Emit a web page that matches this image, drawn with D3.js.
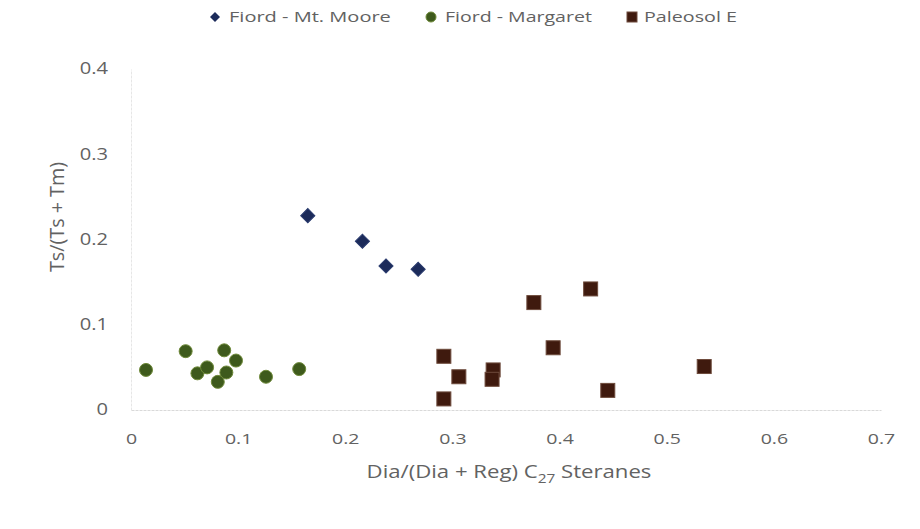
<!DOCTYPE html>
<html>
<head>
<meta charset="utf-8">
<script src="https://cdn.jsdelivr.net/npm/d3@7"></script>
<style>
  body { margin: 0; background: #fff; }
  text { font-family: "Open Sans", Lato, sans-serif; fill: #626262; }
</style>
</head>
<body>
<div id="chart"></div>
<script>
// values
const mooreX = [0.165, 0.216, 0.238, 0.268];
const mooreY = [0.228, 0.198, 0.169, 0.165];

const margaretX = [0.014, 0.051, 0.062, 0.071, 0.087, 0.098, 0.089, 0.081, 0.126, 0.157];
const margaretY = [0.047, 0.069, 0.043, 0.050, 0.070, 0.058, 0.044, 0.033, 0.039, 0.048];

const paleoX = [0.292, 0.306, 0.292, 0.376, 0.429, 0.394, 0.338, 0.337, 0.445, 0.535];
const paleoY = [0.063, 0.039, 0.013, 0.126, 0.142, 0.073, 0.047, 0.036, 0.023, 0.051];

const xTicks = [0, 0.1, 0.2, 0.3, 0.4, 0.5, 0.6, 0.7];
const yTicks = [0, 0.1, 0.2, 0.3, 0.4];

const seriesNames = ["Fiord - Mt. Moore", "Fiord - Margaret", "Paleosol E"];

// the picture is a bit wider than tall, so text is stretched sideways
const stretchX = 1.3;

// Setting up margin, width and height
const margin = {top: 69, right: 39, bottom: 119, left: 131};
const width = 920 - margin.left - margin.right;
const height = 529 - margin.top - margin.bottom;

const svg = d3.select("#chart")
  .append("svg")
  .attr("width", 920)
  .attr("height", 529);

const g = svg.append("g")
  .attr("transform", `translate(${margin.left},${margin.top})`);

const x = d3.scaleLinear().domain([0, 0.7]).range([0, width]);
const y = d3.scaleLinear().domain([0, 0.4]).range([height, 0]);

const fmt = d => d === 0 ? "0" : d3.format(".1f")(d);

// squeeze or widen a text so it takes the given width
function fitWidth(sel, target) {
  const w = sel.node().getBBox().width;
  sel.attr("transform", `scale(${target / w},1)`);
}

// x axis
const xAxis = g.append("g")
  .attr("transform", `translate(0,${height})`)
  .call(d3.axisBottom(x).tickValues(xTicks).tickFormat(fmt).tickSize(0).tickPadding(23));
xAxis.select(".domain").attr("stroke", "#d9d9d9").attr("stroke-dasharray", "3,1");
xAxis.selectAll("text")
  .style("font-size", "15px")
  .attr("fill", "#626262")
  .attr("transform", `scale(${stretchX},1)`);

// y axis
const yAxis = g.append("g")
  .call(d3.axisLeft(y).tickValues(yTicks).tickFormat(fmt).tickSize(0).tickPadding(23));
yAxis.select(".domain").attr("stroke", "#e6e6e6").attr("stroke-dasharray", "3,1");
yAxis.selectAll("text")
  .style("font-size", "15.5px")
  .attr("fill", "#626262")
  .attr("x", 0)
  .attr("transform", `translate(-23,0) scale(${stretchX},1)`);

// axis titles
const xTitle = svg.append("g")
  .attr("transform", "translate(509,478)")
  .append("text")
  .attr("text-anchor", "middle")
  .style("font-size", "18px");
xTitle.append("tspan").text("Dia/(Dia + Reg) C");
xTitle.append("tspan").attr("dy", 5).style("font-size", "12.5px").text("27");
xTitle.append("tspan").attr("dy", -5).text(" Steranes");
fitWidth(xTitle, 285);

const yTitle = svg.append("g")
  .attr("transform", `translate(57,217) scale(${stretchX},1) rotate(-90)`)
  .append("text")
  .attr("text-anchor", "middle")
  .attr("dy", "0.35em")
  .style("font-size", "15.5px")
  .text("Ts/(Ts + Tm)");
fitWidth(yTitle, 110);

// markers
const diamond = d3.symbol().type(d3.symbolSquare).size(100);

g.selectAll(".moore")
  .data(mooreX)
  .join("path")
  .attr("class", "moore")
  .attr("d", diamond)
  .attr("transform", (d, i) => `translate(${x(d)},${y(mooreY[i])}) rotate(45)`)
  .attr("fill", "#1c2b5a")
  .attr("stroke", "#2a3b6e")
  .attr("stroke-width", 1);

g.selectAll(".margaret")
  .data(margaretX)
  .join("circle")
  .attr("class", "margaret")
  .attr("cx", d => x(d))
  .attr("cy", (d, i) => y(margaretY[i]))
  .attr("r", 6.5)
  .attr("fill", "#3e5a1c")
  .attr("stroke", "#6f8a3a")
  .attr("stroke-width", 1);

g.selectAll(".paleo")
  .data(paleoX)
  .join("rect")
  .attr("class", "paleo")
  .attr("x", d => x(d) - 7)
  .attr("y", (d, i) => y(paleoY[i]) - 7)
  .attr("width", 14)
  .attr("height", 14)
  .attr("fill", "#3f1a0e")
  .attr("stroke", "#6e4b3c")
  .attr("stroke-width", 1);

// legend
const legendX = [215, 431, 632];
const legendTextW = [162, 147, 93];
const legend = svg.selectAll(".legend")
  .data(seriesNames)
  .join("g")
  .attr("class", "legend")
  .attr("transform", (d, i) => `translate(${legendX[i]},17)`);

legend.each(function(d, i) {
  const lg = d3.select(this);
  if (i === 0) {
    lg.append("path").attr("d", d3.symbol().type(d3.symbolSquare).size(50))
      .attr("transform", "rotate(45)").attr("fill", "#1c2b5a");
  } else if (i === 1) {
    lg.append("circle").attr("r", 5).attr("fill", "#3e5a1c").attr("stroke", "#6f8a3a");
  } else {
    lg.append("rect").attr("x", -5).attr("y", -5).attr("width", 10).attr("height", 10)
      .attr("fill", "#3f1a0e").attr("stroke", "#6e4b3c");
  }
  const t = lg.append("g")
    .attr("transform", `translate(${i === 2 ? 12 : 14},0)`)
    .append("text")
    .attr("dy", "0.35em")
    .style("font-size", "15px")
    .text(d);
  fitWidth(t, legendTextW[i]);
});
</script>
</body>
</html>
